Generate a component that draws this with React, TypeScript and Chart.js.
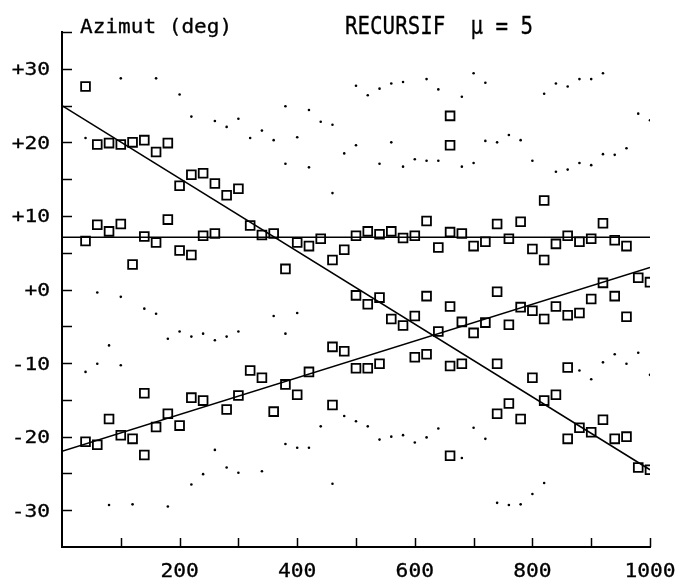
import React, { useEffect, useRef } from 'react';
import { Chart, registerables } from 'chart.js';

Chart.register(...registerables);

// ---- data ----
const X_POSITIONS = [
  40, 60, 80, 100, 120, 140, 160, 180, 200, 220, 240, 260, 280, 300, 320, 340, 360,
  380, 400, 420, 440, 460, 480, 500, 520, 540, 560, 580, 600, 620, 640, 660, 680,
  700, 720, 740, 760, 780, 800, 820, 840, 860, 880, 900, 920, 940, 960, 980, 1000,
];

// square markers (estimates), one list per x position
const SQUARE_VALUES: number[][] = [
  [27.6, 6.6, -20.7],
  [19.7, 8.8, -21.1],
  [19.9, 7.9, -17.6],
  [19.7, 8.9, -19.8],
  [20.0, 3.4, -20.3],
  [20.3, 7.2, -14.1, -22.5],
  [18.7, 6.4, -18.7],
  [19.9, 9.5, -16.9],
  [14.1, 5.3, -18.5],
  [15.6, 4.7, -14.7],
  [15.8, 7.3, -15.1],
  [14.4, 7.6],
  [12.8, -16.3],
  [13.7, -14.4],
  [8.7, -11.0],
  [7.4, -12.0],
  [7.6, -16.6],
  [2.8, -12.9],
  [6.4, -14.3],
  [5.9, -11.2],
  [6.9],
  [4.0, -7.8, -15.7],
  [5.4, -8.4],
  [7.3, -0.8, -10.7],
  [7.9, -2.0, -10.7],
  [7.5, -1.1, -10.1],
  [7.9, -4.0],
  [7.0, -4.9],
  [7.3, -3.6, -9.2],
  [9.3, -0.9, -8.8],
  [5.7, -5.7],
  [23.6, 19.6, 7.8, -2.3, -10.4, -22.6],
  [7.6, -4.4, -10.1],
  [5.9, -5.9],
  [6.5, -4.5],
  [8.9, -0.3, -10.1, -16.9],
  [6.9, -4.8, -15.5],
  [9.2, -2.4, -17.6],
  [5.5, -2.9, -12.0],
  [12.1, 4.0, -4.0, -15.1],
  [6.2, -2.3, -14.3],
  [7.3, -3.5, -10.6, -20.3],
  [6.5, -3.2, -18.8],
  [6.9, -1.3, -19.4],
  [9.0, 0.9, -17.7],
  [6.7, -0.9, -20.3],
  [5.9, -3.7, -20.0],
  [1.6, -24.2],
  [1.0, -24.5],
];

// small dots (estimates), one list per x position
const DOT_VALUES: number[][] = [
  [20.6, -11.2],
  [-0.4, -10.1],
  [-7.6, -29.3],
  [28.7, -1.0, -10.3],
  [-29.2],
  [-2.6],
  [28.7, -3.3],
  [-6.7, -29.5],
  [26.5, -5.7],
  [23.5, -6.4, -26.5],
  [-6.0, -25.1],
  [22.9, -6.9, -21.8],
  [22.1, -6.4, -24.2],
  [23.2, -5.7, -24.9],
  [20.6],
  [21.6, -24.7],
  [20.3, -3.6],
  [24.9, 17.1, -6.0, -21.0],
  [20.7, -3.2, -21.5],
  [24.4, 16.6, -21.5],
  [22.8, -18.6],
  [22.4, 13.1, -26.4],
  [18.5, -17.2],
  [27.7, 19.6, -17.9],
  [26.4, -18.6],
  [27.3, 17.1, -20.4],
  [28.0, 20.0, -20.0],
  [28.2, 16.7, -19.8],
  [17.7, -20.8],
  [28.6, 17.5, -20.1],
  [27.2, 17.5, -18.9],
  [],
  [26.2, 16.7, -22.9],
  [29.4, 17.2, -18.8],
  [28.1, 20.2, -20.3],
  [20.0, -29.0],
  [21.0, -29.3],
  [20.3, -29.2],
  [17.5, -27.8],
  [26.6, -26.3],
  [28.0, 16.0],
  [27.6, 16.3],
  [28.6, 17.2, -11.0],
  [28.6, 16.9, -12.2],
  [29.4, 18.4, -9.9],
  [18.3, -8.8],
  [19.2, -10.1],
  [23.9, -8.6],
  [23.0, -11.6],
];

// fitted straight lines (end points)
const FALL_LINE_X = [0, 1000];
const FALL_LINE_Y = [25, -24.5];
const FLAT_LINE_X = [0, 1000];
const FLAT_LINE_Y = [7.1, 7.1];
const RISE_LINE_X = [0, 1000];
const RISE_LINE_Y = [-22, 3];

// axes
const X_MIN = 0;
const X_MAX = 1000;
const Y_MIN = -35;
const Y_MAX = 35;
const X_TICK_MARKS = [100, 200, 300, 400, 500, 600, 700, 800, 900, 1000];
const X_LABEL_VALUES = [200, 400, 600, 800, 1000];
const X_TICK_LABELS = ['200', '400', '600', '800', '1000'];
const Y_TICK_MARKS = [-30, -25, -20, -15, -10, -5, 0, 5, 10, 15, 20, 25, 30, 35];
const Y_LABEL_VALUES = [30, 20, 10, 0, -10, -20, -30];
const Y_TICK_LABELS = ['+30', '+20', '+10', '+0', '-10', '-20', '-30'];

const Y_TITLE = 'Azimut (deg)';
const MAIN_TITLE = 'RECURSIF  \u03bc = 5';

const FONT = '"DejaVu Sans Mono", "Liberation Mono", monospace';

const toPoints = (xs: number[], ys: number[]) => xs.map((x, i) => ({ x, y: ys[i] }));

const plotterPlugin = {
  id: 'plotterText',
  afterDraw(chart: any) {
    const ctx: CanvasRenderingContext2D = chart.ctx;
    const xs = chart.scales.x;
    const ys = chart.scales.y;
    const { left, bottom } = chart.chartArea;
    ctx.save();
    ctx.strokeStyle = '#000';
    ctx.lineWidth = 1.5;
    Y_TICK_MARKS.forEach((v) => {
      const py = Math.round(ys.getPixelForValue(v)) + 0.5;
      ctx.beginPath();
      ctx.moveTo(left, py);
      ctx.lineTo(left + 10, py);
      ctx.stroke();
    });
    X_TICK_MARKS.forEach((v) => {
      const px = Math.round(xs.getPixelForValue(v)) + 0.5;
      ctx.beginPath();
      ctx.moveTo(px, bottom);
      ctx.lineTo(px, bottom - 9);
      ctx.stroke();
    });
    ctx.fillStyle = '#000';
    const drawText = (text: string, x: number, y: number, size: number, sx: number, align: CanvasTextAlign) => {
      ctx.save();
      ctx.font = `${size}px ${FONT}`;
      ctx.textBaseline = 'alphabetic';
      ctx.textAlign = align;
      ctx.translate(x, y);
      ctx.scale(sx, 1);
      ctx.fillText(text, 0, 0);
      ctx.lineWidth = 0.3;
      ctx.strokeStyle = '#000';
      ctx.strokeText(text, 0, 0);
      ctx.restore();
    };
    Y_LABEL_VALUES.forEach((v, i) => {
      drawText(Y_TICK_LABELS[i], left - 12, ys.getPixelForValue(v) + 6.5, 18, 1.18, 'right');
    });
    X_LABEL_VALUES.forEach((v, i) => {
      drawText(X_TICK_LABELS[i], xs.getPixelForValue(v), 577, 19, 1.12, 'center');
    });
    drawText(Y_TITLE, left + 18, 33, 19.5, 1.08, 'left');
    drawText(MAIN_TITLE, 345, 34, 24.5, 0.85, 'left');
    ctx.restore();
  },
};

export default function App() {
  const canvasRef = useRef<HTMLCanvasElement | null>(null);

  useEffect(() => {
    const canvas = canvasRef.current;
    if (!canvas) return;

    const squares = X_POSITIONS.flatMap((x, i) => SQUARE_VALUES[i].map((y) => ({ x, y })));
    const dots = X_POSITIONS.flatMap((x, i) => DOT_VALUES[i].map((y) => ({ x, y })));

    const lineStyle = {
      showLine: true,
      borderColor: '#000',
      borderWidth: 1.5,
      pointRadius: 0,
      pointHoverRadius: 0,
      fill: false,
    };

    const chart = new Chart(canvas, {
      type: 'scatter',
      data: {
        datasets: [
          {
            label: 'squares',
            data: squares,
            pointStyle: 'rect',
            pointRadius: 6.2,
            pointBorderWidth: 1.8,
            borderColor: '#000',
            backgroundColor: 'rgba(255,255,255,0)',
          },
          {
            label: 'dots',
            data: dots,
            pointStyle: 'circle',
            pointRadius: 1.3,
            pointBorderWidth: 0,
            borderColor: '#000',
            backgroundColor: '#000',
          },
          { label: 'fall', data: toPoints(FALL_LINE_X, FALL_LINE_Y), ...lineStyle },
          { label: 'flat', data: toPoints(FLAT_LINE_X, FLAT_LINE_Y), ...lineStyle },
          { label: 'rise', data: toPoints(RISE_LINE_X, RISE_LINE_Y), ...lineStyle },
        ] as any,
      },
      options: {
        animation: false,
        responsive: false,
        devicePixelRatio: 1,
        layout: { padding: { top: 32, right: 28, left: 0, bottom: 0 } },
        plugins: {
          legend: { display: false },
          title: { display: false },
          tooltip: { enabled: false },
        },
        scales: {
          x: {
            type: 'linear',
            min: X_MIN,
            max: X_MAX,
            grid: { display: false, drawTicks: false },
            border: { display: true, color: '#000', width: 2 },
            ticks: { display: false },
            afterFit: (scale: any) => {
              scale.height = 33;
            },
          },
          y: {
            type: 'linear',
            min: Y_MIN,
            max: Y_MAX,
            grid: { display: false, drawTicks: false },
            border: { display: true, color: '#000', width: 2 },
            ticks: { display: false },
            afterFit: (scale: any) => {
              scale.width = 62;
            },
          },
        },
      } as any,
      plugins: [plotterPlugin],
    });

    return () => chart.destroy();
  }, []);

  return (
    <div style={{ position: 'absolute', left: 0, top: 0, width: 678, height: 580, background: '#fff' }}>
      <canvas ref={canvasRef} width={678} height={580} style={{ display: 'block' }} />
    </div>
  );
}
